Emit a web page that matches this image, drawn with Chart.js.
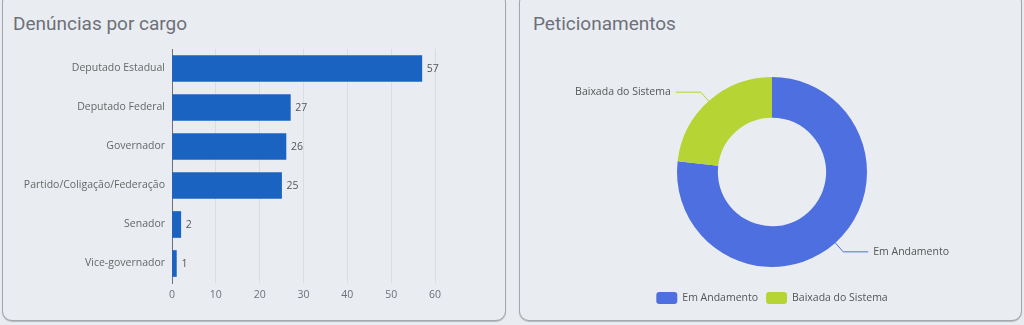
<!DOCTYPE html>
<html>
<head>
<meta charset="utf-8">
<script src="https://cdn.jsdelivr.net/npm/chart.js@4.4.1/dist/chart.umd.min.js"></script>
<style>
  html, body { margin:0; padding:0; width:1024px; height:325px; overflow:hidden; background:#e9edf1; }
  .panel { position:absolute; top:-8px; height:329px; border:1px solid #a3a8ae; border-radius:10px; background:#e9edf1; box-shadow:0 1px 1px #b4b8bd; box-sizing:border-box; }
  .title { position:absolute; top:12px; font-family:Roboto, "Noto Sans", sans-serif; font-size:19px; color:#6e7079; }
  canvas { position:absolute; top:0; }
</style>
</head>
<body>
<div class="panel" style="left:2px; width:504px;"></div>
<div class="panel" style="left:519px; width:503px;"></div>
<div class="title" style="left:13px;">Denúncias por cargo</div>
<div class="title" style="left:533px;">Peticionamentos</div>
<canvas id="bar" width="512" height="325" style="left:0;width:512px;height:325px;"></canvas>
<canvas id="pie" width="512" height="325" style="left:512px;width:512px;height:325px;"></canvas>
<script>
const cargoLabels = ['Deputado Estadual','Deputado Federal','Governador','Partido/Coligação/Federação','Senador','Vice-governador'];
const cargoValues = [57, 27, 26, 25, 2, 1];
const xTicks = [0, 10, 20, 30, 40, 50, 60];
const petLabels = ['Em Andamento', 'Baixada do Sistema'];
const petValues = [106, 32];
const petColors = ['#4e6fdf', '#b6d433'];

const FONT = '"Open Sans", "Noto Sans", sans-serif';
const FS = 10.5;

const valueLabels = {
  id: 'valueLabels',
  afterDatasetsDraw(chart) {
    const ctx = chart.ctx;
    const meta = chart.getDatasetMeta(0);
    ctx.save();
    ctx.font = FS + 'px ' + FONT;
    ctx.fillStyle = '#555';
    ctx.textAlign = 'left';
    ctx.textBaseline = 'middle';
    meta.data.forEach((bar, i) => {
      ctx.fillText(String(chart.data.datasets[0].data[i]), bar.x + 5, bar.y + 1);
    });
    ctx.restore();
  }
};

new Chart(document.getElementById('bar'), {
  type: 'bar',
  data: { labels: cargoLabels, datasets: [{ data: cargoValues, backgroundColor: '#1a63c1', barThickness: 26 }] },
  options: {
    indexAxis: 'y', responsive: false, animation: false,
    layout: { padding: { top: 49, right: 77, left: 0, bottom: 0 } },
    plugins: { legend: { display: false }, tooltip: { enabled: false } },
    scales: {
      x: {
        min: 0, max: 60,
        afterBuildTicks(scale) { scale.ticks = xTicks.map(v => ({ value: v })); },
        afterFit(scale) { scale.height = 42; },
        grid: { color: '#d9dde2', drawTicks: false },
        border: { display: false },
        ticks: { padding: 6, color: '#6e7079', font: { family: FONT, size: FS } }
      },
      y: {
        afterFit(scale) { scale.width = 172; },
        grid: { display: false, drawTicks: false },
        border: { display: true, color: '#6e7079', width: 1 },
        ticks: { padding: 7, color: '#666', font: { family: FONT, size: FS } }
      }
    }
  },
  plugins: [valueLabels]
});

const pieExtras = {
  id: 'pieExtras',
  afterDraw(chart) {
    const ctx = chart.ctx;
    const meta = chart.getDatasetMeta(0);
    ctx.save();
    ctx.font = FS + 'px ' + FONT;
    ctx.textBaseline = 'middle';
    meta.data.forEach((arc, i) => {
      const mid = (arc.startAngle + arc.endAngle) / 2;
      const cos = Math.cos(mid), sin = Math.sin(mid);
      const x0 = arc.x + cos * arc.outerRadius, y0 = arc.y + sin * arc.outerRadius;
      const x1 = arc.x + cos * (arc.outerRadius + 12), y1 = arc.y + sin * (arc.outerRadius + 12);
      const dir = cos >= 0 ? 1 : -1;
      const x2 = x1 + dir * 25;
      ctx.strokeStyle = petColors[i];
      ctx.lineWidth = 1;
      ctx.beginPath(); ctx.moveTo(x0, y0); ctx.lineTo(x1, y1); ctx.lineTo(x2, y1); ctx.stroke();
      ctx.fillStyle = '#555';
      ctx.textAlign = dir > 0 ? 'left' : 'right';
      ctx.fillText(chart.data.labels[i], x2 + dir * 5, y1);
    });
    // legend
    const boxW = 21, boxH = 12, gap = 5, itemGap = 8;
    const widths = chart.data.labels.map(l => boxW + gap + ctx.measureText(l).width);
    const total = widths.reduce((a, b) => a + b, 0) + itemGap * (widths.length - 1);
    let x = 260 - total / 2;
    const y = 298;
    chart.data.labels.forEach((l, i) => {
      ctx.fillStyle = petColors[i];
      ctx.beginPath();
      ctx.roundRect(x, y - boxH / 2, boxW, boxH, 3);
      ctx.fill();
      ctx.fillStyle = '#555';
      ctx.textAlign = 'left';
      ctx.fillText(l, x + boxW + gap, y);
      x += widths[i] + itemGap;
    });
    ctx.restore();
  }
};

new Chart(document.getElementById('pie'), {
  type: 'doughnut',
  data: { labels: petLabels, datasets: [{ data: petValues, backgroundColor: petColors, borderWidth: 0 }] },
  options: {
    responsive: false, animation: false, cutout: '57%',
    layout: { padding: { top: 77, bottom: 58, left: 100, right: 92 } },
    plugins: { legend: { display: false }, tooltip: { enabled: false } }
  },
  plugins: [pieExtras]
});
</script>
</body>
</html>
